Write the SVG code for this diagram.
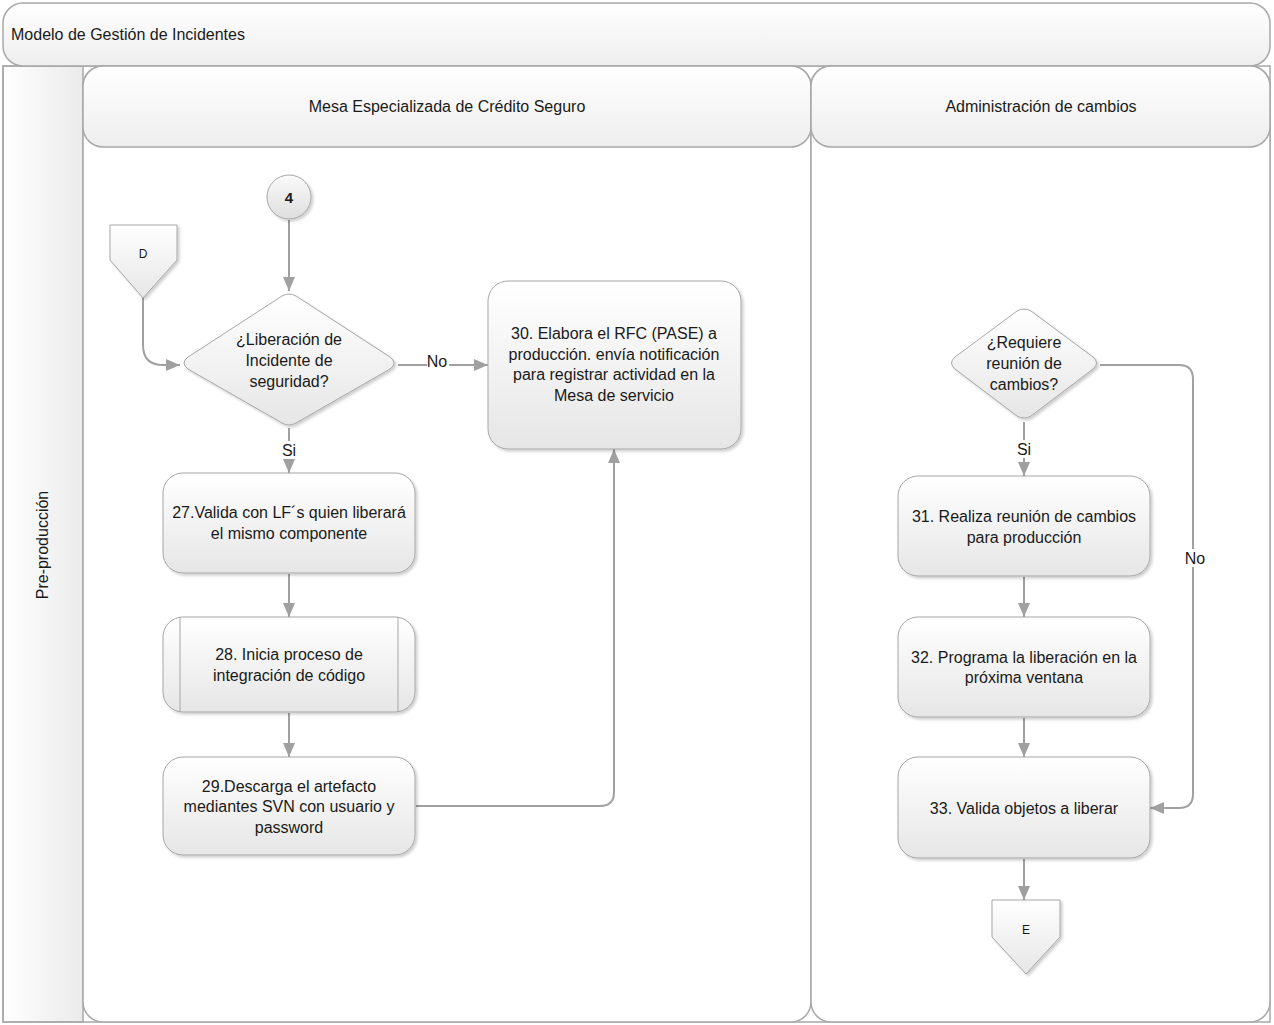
<svg xmlns="http://www.w3.org/2000/svg" width="1274" height="1025" viewBox="0 0 1274 1025">
  <defs>
    <linearGradient id="gNode" x1="0" y1="0" x2="0" y2="1">
      <stop offset="0" stop-color="#ffffff"/>
      <stop offset="1" stop-color="#e6e6e6"/>
    </linearGradient>
    <linearGradient id="gHead" x1="0" y1="0" x2="0" y2="1">
      <stop offset="0" stop-color="#ffffff"/>
      <stop offset="1" stop-color="#eeeeee"/>
    </linearGradient>
    <linearGradient id="gPool" x1="0" y1="0" x2="1" y2="0">
      <stop offset="0" stop-color="#ffffff"/>
      <stop offset="1" stop-color="#ebebeb"/>
    </linearGradient>
    <linearGradient id="gCircle" x1="0" y1="0" x2="0" y2="1">
      <stop offset="0" stop-color="#fafafa"/>
      <stop offset="1" stop-color="#dedede"/>
    </linearGradient>
    <filter id="shadow" x="-10%" y="-10%" width="125%" height="125%">
      <feGaussianBlur in="SourceAlpha" stdDeviation="1.5"/>
      <feOffset dx="2" dy="2" result="b"/>
      <feComponentTransfer><feFuncA type="linear" slope="0.2"/></feComponentTransfer>
      <feMerge><feMergeNode/><feMergeNode in="SourceGraphic"/></feMerge>
    </filter>
    <marker id="arrow" viewBox="0 0 14 12" refX="14" refY="6" markerWidth="14" markerHeight="12" markerUnits="userSpaceOnUse" orient="auto">
      <path d="M0,0 L14,6 L0,12 z" fill="#a0a0a0"/>
    </marker>
    <style>
      .frame { fill: none; stroke: #a8a8a8; stroke-width: 1.5; }
      .head { fill: url(#gHead); stroke: #a8a8a8; stroke-width: 1.5; }
      .node { fill: url(#gNode); stroke: #a6a6a6; stroke-width: 1; filter: url(#shadow); }
      .line { fill: none; stroke: #a0a0a0; stroke-width: 2; }
      .t { font-family: "Liberation Sans", Arial, sans-serif; font-size: 16px; fill: #1a1a1a; text-anchor: middle; }
      .h { font-family: "Liberation Sans", Arial, sans-serif; font-size: 16px; fill: #1a1a1a; }
      .c { font-family: "Liberation Sans", Arial, sans-serif; font-size: 12px; fill: #1a1a1a; text-anchor: middle; }
    </style>
  </defs>

  <rect width="1274" height="1025" fill="#ffffff"/>

  <!-- pool frame and title -->
  <g id="pool">
    <rect x="3" y="66" width="80" height="956" fill="url(#gPool)" stroke="#a8a8a8" stroke-width="1.5"/>
    <rect x="3" y="66" width="1267" height="956" class="frame"/>
    <rect x="3" y="3" width="1267" height="63" rx="20" class="head"/>
    <text class="h" x="11" y="40">Modelo de Gestión de Incidentes</text>
    <text class="h" x="48" y="545" text-anchor="middle" transform="rotate(-90 48 545)">Pre-producción</text>
  </g>

  <!-- lanes -->
  <g id="lane-mesa">
    <rect x="83" y="66" width="728" height="956" rx="20" fill="#ffffff" stroke="#a8a8a8" stroke-width="1.5"/>
    <rect x="83" y="66" width="728" height="81" rx="20" class="head"/>
    <text class="h" x="447" y="112" text-anchor="middle">Mesa Especializada de Crédito Seguro</text>
  </g>
  <g id="lane-cambios">
    <rect x="811" y="66" width="459" height="956" rx="20" fill="#ffffff" stroke="#a8a8a8" stroke-width="1.5"/>
    <rect x="811" y="66" width="459" height="81" rx="20" class="head"/>
    <text class="h" x="1041" y="112" text-anchor="middle">Administración de cambios</text>
  </g>

  <!-- connectors -->
  <g id="connectors">
    <path class="line" d="M289,220 V291" marker-end="url(#arrow)"/>
    <path class="line" d="M143,298 V345 Q143,365 163,365 H180" marker-end="url(#arrow)"/>
    <path class="line" d="M398,365 H488" marker-end="url(#arrow)"/>
    <path class="line" d="M289,428 V473" marker-end="url(#arrow)"/>
    <path class="line" d="M289,574 V617" marker-end="url(#arrow)"/>
    <path class="line" d="M289,713 V757" marker-end="url(#arrow)"/>
    <path class="line" d="M416,806 H600 Q614,806 614,792 V449" marker-end="url(#arrow)"/>
    <path class="line" d="M1024,422 V476" marker-end="url(#arrow)"/>
    <path class="line" d="M1100,365 H1179 Q1193,365 1193,379 V794 Q1193,808 1179,808 H1150" marker-end="url(#arrow)"/>
    <path class="line" d="M1024,577 V617" marker-end="url(#arrow)"/>
    <path class="line" d="M1024,718 V757" marker-end="url(#arrow)"/>
    <path class="line" d="M1024,859 V900" marker-end="url(#arrow)"/>
    <rect x="427" y="353" width="22" height="18" fill="#ffffff"/>
    <text class="t" x="437" y="367">No</text>
    <rect x="280" y="441" width="18" height="18" fill="#ffffff"/>
    <text class="t" x="289" y="456">Si</text>
    <rect x="1015" y="440" width="18" height="18" fill="#ffffff"/>
    <text class="t" x="1024" y="455">Si</text>
    <rect x="1184" y="549" width="22" height="18" fill="#ffffff"/>
    <text class="t" x="1195" y="564">No</text>
  </g>

  <!-- nodes -->
  <g id="conn-4">
    <circle cx="289" cy="197" r="22" class="node" style="fill:url(#gCircle)"/>
    <text class="t" x="289" y="203" style="font-weight:bold; font-size:15px">4</text>
  </g>
  <g id="offpage-D">
    <path class="node" d="M110,225 H177 V260 L143,298 L110,260 Z"/>
    <text class="c" x="143" y="258">D</text>
  </g>
  <g id="dec-liberacion">
    <path class="node" d="M282,296 Q289,292 296,296 L390,357 Q398,363 390,369 L296,423 Q289,427 282,423 L188,369 Q180,363 188,357 Z"/>
    <text class="t" x="289" y="345">¿Liberación de</text>
    <text class="t" x="289" y="366">Incidente de</text>
    <text class="t" x="289" y="387">seguridad?</text>
  </g>
  <g id="step-27">
    <rect x="163" y="473" width="252" height="100" rx="20" class="node"/>
    <text class="t" x="289" y="518">27.Valida con LF´s quien liberará</text>
    <text class="t" x="289" y="539">el mismo componente</text>
  </g>
  <g id="step-28">
    <rect x="163" y="617" width="252" height="95" rx="20" class="node"/>
    <path d="M180,617 V712 M398,617 V712" stroke="#a6a6a6" stroke-width="1" fill="none"/>
    <text class="t" x="289" y="660">28. Inicia proceso de</text>
    <text class="t" x="289" y="681">integración de código</text>
  </g>
  <g id="step-29">
    <rect x="163" y="757" width="252" height="98" rx="20" class="node"/>
    <text class="t" x="289" y="792">29.Descarga el artefacto</text>
    <text class="t" x="289" y="812">mediantes SVN con usuario y</text>
    <text class="t" x="289" y="833">password</text>
  </g>
  <g id="step-30">
    <rect x="488" y="281" width="253" height="168" rx="20" class="node"/>
    <text class="t" x="614" y="339">30. Elabora el RFC (PASE) a</text>
    <text class="t" x="614" y="360">producción. envía notificación</text>
    <text class="t" x="614" y="380">para registrar actividad en la</text>
    <text class="t" x="614" y="401">Mesa de servicio</text>
  </g>
  <g id="dec-reunion">
    <path class="node" d="M1017,311 Q1024,307 1031,311 L1093,357 Q1100,363 1093,369 L1031,416 Q1024,420 1017,416 L955,369 Q948,363 955,357 Z"/>
    <text class="t" x="1024" y="348">¿Requiere</text>
    <text class="t" x="1024" y="369">reunión de</text>
    <text class="t" x="1024" y="390">cambios?</text>
  </g>
  <g id="step-31">
    <rect x="898" y="476" width="252" height="100" rx="20" class="node"/>
    <text class="t" x="1024" y="522">31. Realiza reunión de cambios</text>
    <text class="t" x="1024" y="543">para producción</text>
  </g>
  <g id="step-32">
    <rect x="898" y="617" width="252" height="100" rx="20" class="node"/>
    <text class="t" x="1024" y="663">32. Programa la liberación en la</text>
    <text class="t" x="1024" y="683">próxima ventana</text>
  </g>
  <g id="step-33">
    <rect x="898" y="757" width="252" height="101" rx="20" class="node"/>
    <text class="t" x="1024" y="814">33. Valida objetos a liberar</text>
  </g>
  <g id="offpage-E">
    <path class="node" d="M992,900 H1060 V937 L1026,974 L992,937 Z"/>
    <text class="c" x="1026" y="934">E</text>
  </g>
</svg>
